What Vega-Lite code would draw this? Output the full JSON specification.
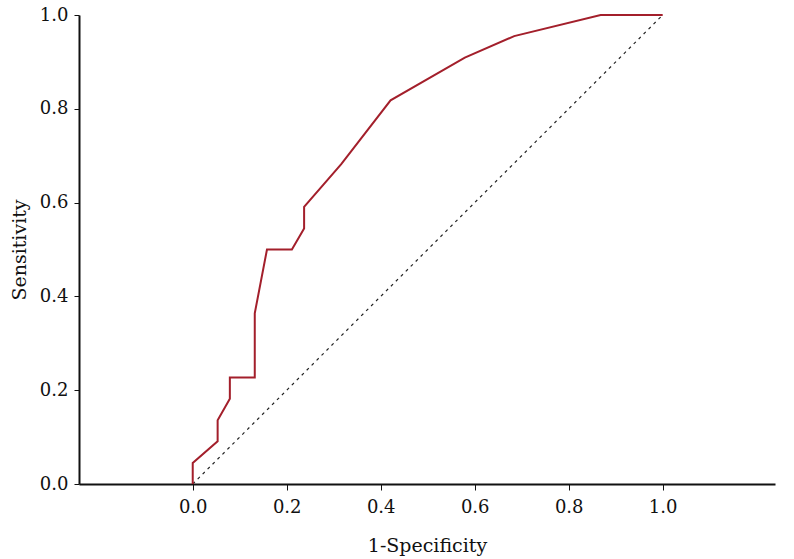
{
  "$schema": "https://vega.github.io/schema/vega-lite/v6.json",
  "width": 696,
  "height": 469,
  "autosize": "none",
  "padding": {"left": 79, "top": 15, "right": 19, "bottom": 75},
  "background": "white",
  "config": {
    "view": {"stroke": null},
    "axis": {
      "grid": false,
      "domainColor": "#111",
      "domainWidth": 2,
      "tickColor": "#111",
      "tickWidth": 1,
      "labelFont": "DejaVu Serif",
      "titleFont": "DejaVu Serif",
      "labelFontSize": 18,
      "titleFontSize": 19,
      "labelColor": "#111",
      "titleColor": "#111",
      "titleFontWeight": "normal"
    }
  },
  "datasets": {
    "roc": [
      {"fpr": 0.0, "sens": 0.0, "o": 0},
      {"fpr": 0.0, "sens": 0.045, "o": 1},
      {"fpr": 0.053, "sens": 0.091, "o": 2},
      {"fpr": 0.053, "sens": 0.136, "o": 3},
      {"fpr": 0.079, "sens": 0.182, "o": 4},
      {"fpr": 0.079, "sens": 0.227, "o": 5},
      {"fpr": 0.132, "sens": 0.227, "o": 6},
      {"fpr": 0.132, "sens": 0.364, "o": 7},
      {"fpr": 0.158, "sens": 0.5, "o": 8},
      {"fpr": 0.211, "sens": 0.5, "o": 9},
      {"fpr": 0.237, "sens": 0.545, "o": 10},
      {"fpr": 0.237, "sens": 0.591, "o": 11},
      {"fpr": 0.316, "sens": 0.682, "o": 12},
      {"fpr": 0.421, "sens": 0.818, "o": 13},
      {"fpr": 0.579, "sens": 0.909, "o": 14},
      {"fpr": 0.684, "sens": 0.955, "o": 15},
      {"fpr": 0.868, "sens": 1.0, "o": 16},
      {"fpr": 1.0, "sens": 1.0, "o": 17}
    ],
    "ref": [
      {"fpr": 0.0, "sens": 0.0},
      {"fpr": 1.0, "sens": 1.0}
    ]
  },
  "layer": [
    {
      "data": {"name": "ref"},
      "mark": {"type": "line", "color": "#222", "strokeWidth": 1.2, "strokeDash": [3, 4]},
      "encoding": {
        "x": {"field": "fpr", "type": "quantitative", "scale": {"domain": [-0.242, 1.239], "nice": false, "zero": false},
              "axis": {"values": [0, 0.2, 0.4, 0.6, 0.8, 1.0], "format": ".1f", "title": "1-Specificity", "tickSize": 6, "labelPadding": 8, "titlePadding": 20}},
        "y": {"field": "sens", "type": "quantitative", "scale": {"domain": [0, 1], "nice": false},
              "axis": {"values": [0, 0.2, 0.4, 0.6, 0.8, 1.0], "format": ".1f", "title": "Sensitivity", "tickSize": 5, "labelPadding": 6, "titlePadding": 10}}
      }
    },
    {
      "data": {"name": "roc"},
      "mark": {"type": "line", "color": "#a31f2b", "strokeWidth": 2},
      "encoding": {
        "x": {"field": "fpr", "type": "quantitative"},
        "y": {"field": "sens", "type": "quantitative"},
        "order": {"field": "o", "type": "quantitative"}
      }
    }
  ]
}
